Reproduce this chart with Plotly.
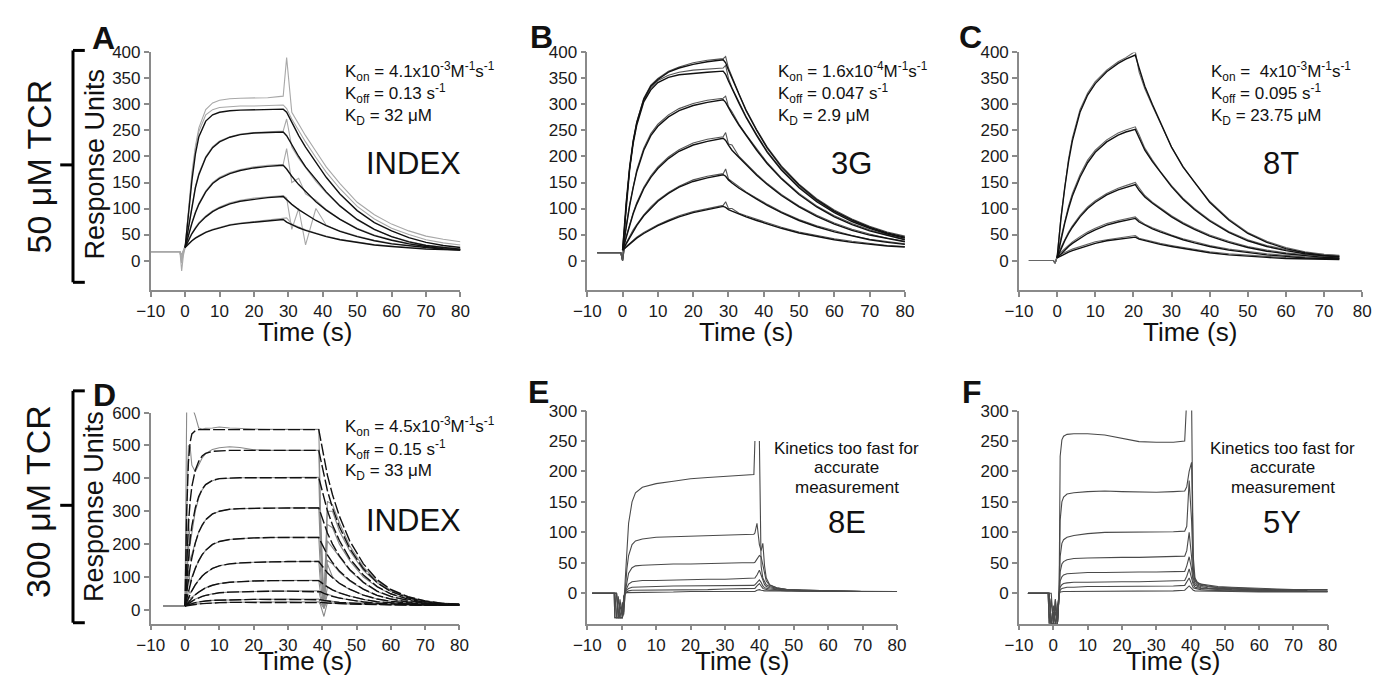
import plotly.graph_objects as go

W, H = 1382, 677
FONT = "Liberation Sans, Arial, sans-serif"

# ---------------- data ----------------
# Panel A: INDEX, 50 uM TCR
t_a = [-10, -1.5, -1, -0.5, 0, 1, 2, 3, 4, 6, 8, 10, 13, 16, 20, 24, 28.5,
       29.5, 31, 33, 35, 38, 41, 45, 50, 55, 60, 65, 70, 75, 80]
a_dat_1 = [17, 17, -20, 10, 25, 100, 170, 220, 255, 290, 303, 308, 311, 312, 312, 313, 316,
           390, 285, 262, 240, 210, 180, 148, 112, 88, 70, 57, 47, 41, 36]
a_dat_2 = [17, 17, -5, 15, 25, 95, 165, 215, 248, 280, 290, 294, 296, 297, 297, 298, 299,
           292, 272, 250, 228, 198, 170, 138, 104, 80, 62, 50, 40, 34, 30]
a_dat_3 = [17, 17, 5, 20, 28, 68, 108, 143, 168, 200, 219, 230, 238, 243, 246, 247, 249,
           272, 218, 196, 178, 152, 130, 104, 78, 59, 46, 37, 30, 26, 23]
a_dat_4 = [17, 17, 0, 18, 26, 52, 74, 94, 110, 134, 150, 160, 169, 175, 180, 183, 185,
           215, 150, 158, 128, 116, 98, 80, 62, 49, 40, 33, 28, 24, 22]
a_dat_5 = [17, 17, 10, 20, 26, 42, 54, 64, 73, 86, 96, 103, 111, 116, 120, 123, 125,
           120, 60, 100, 30, 100, 68, 57, 47, 39, 33, 29, 26, 23, 21]
a_dat_6 = [17, 17, 12, 20, 26, 33, 39, 44, 48, 55, 60, 64, 69, 72, 75, 78, 80,
           82, 70, 64, 59, 53, 47, 41, 36, 31, 28, 25, 23, 22, 21]
a_fit_1 = [None, None, None, None, 25, 90, 155, 205, 238, 268, 280, 285, 288, 289, 290, 290, 291,
           285, 265, 240, 218, 188, 160, 128, 96, 73, 57, 44, 35, 29, 25]
a_fit_2 = [None, None, None, None, 25, 65, 105, 140, 165, 198, 217, 228, 237, 242, 245, 246, 247,
           240, 222, 200, 180, 155, 132, 105, 79, 60, 46, 36, 29, 25, 22]
a_fit_3 = [None, None, None, None, 25, 50, 72, 92, 108, 132, 148, 158, 167, 173, 178, 181, 183,
           176, 162, 146, 132, 113, 97, 79, 61, 48, 39, 32, 27, 23, 21]
a_fit_4 = [None, None, None, None, 25, 40, 52, 62, 71, 84, 94, 101, 109, 114, 118, 121, 123,
           117, 108, 98, 89, 77, 67, 56, 46, 38, 32, 28, 25, 22, 20]
a_fit_5 = [None, None, None, None, 25, 32, 38, 43, 47, 54, 59, 63, 68, 71, 74, 77, 79,
           74, 69, 63, 58, 52, 46, 40, 35, 30, 27, 24, 22, 21, 20]

# Panel B: 3G
t_b = [-7.2, -0.5, 0, 0.5, 1, 2, 3, 4, 6, 8, 10, 13, 16, 20, 24, 28.5,
       29.2, 30, 31, 33, 35, 38, 41, 45, 50, 55, 60, 65, 70, 75, 80]
b_dat_1 = [15, 15, 2, 60, 108, 178, 230, 266, 312, 337, 350, 364, 372, 380, 385, 388,
           392, 370, 352, 320, 290, 252, 218, 182, 147, 119, 97, 80, 66, 55, 47]
b_dat_2 = [15, 15, 0, 58, 104, 176, 228, 263, 308, 332, 346, 356, 362, 366, 368, 370,
           375, 350, 332, 304, 277, 242, 210, 176, 142, 115, 94, 77, 63, 52, 44]
b_dat_3 = [15, 15, 0, 40, 66, 108, 144, 174, 216, 244, 262, 280, 292, 302, 308, 312,
           316, 296, 286, 262, 242, 214, 188, 159, 129, 105, 86, 71, 59, 49, 41]
b_dat_4 = [15, 15, 0, 30, 46, 70, 92, 111, 141, 163, 180, 199, 213, 226, 233, 238,
           246, 224, 222, 200, 186, 166, 148, 127, 105, 87, 72, 60, 51, 43, 37]
b_dat_5 = [15, 15, 0, 25, 34, 47, 59, 69, 88, 103, 116, 131, 143, 155, 162, 167,
           176, 157, 152, 141, 132, 120, 108, 94, 79, 67, 57, 48, 41, 36, 32]
b_dat_6 = [15, 15, 0, 22, 27, 33, 39, 45, 54, 62, 69, 78, 86, 94, 100, 106,
           113, 100, 100, 91, 86, 79, 72, 64, 55, 48, 42, 37, 33, 29, 27]
b_fit_1 = [None, None, 20, 65, 110, 180, 230, 265, 310, 335, 348, 362, 370, 377, 382, 386,
           380, 366, 350, 318, 288, 250, 216, 180, 145, 117, 95, 78, 64, 53, 45]
b_fit_2 = [None, None, 20, 62, 105, 175, 225, 260, 305, 328, 342, 352, 357, 360, 362, 364,
           358, 345, 330, 302, 275, 240, 208, 174, 140, 113, 92, 75, 62, 51, 43]
b_fit_3 = [None, None, 20, 42, 65, 105, 140, 170, 212, 240, 258, 276, 288, 298, 304, 309,
           304, 294, 282, 260, 240, 212, 186, 157, 127, 103, 84, 69, 57, 48, 40]
b_fit_4 = [None, None, 20, 32, 45, 68, 90, 108, 138, 160, 177, 196, 210, 222, 229, 235,
           231, 222, 212, 198, 184, 164, 146, 125, 103, 85, 70, 58, 49, 42, 36]
b_fit_5 = [None, None, 20, 26, 33, 45, 57, 67, 86, 101, 114, 129, 141, 152, 159, 165,
           162, 155, 149, 139, 130, 118, 106, 92, 77, 65, 55, 47, 40, 35, 31]
b_fit_6 = [None, None, 20, 23, 26, 32, 38, 43, 52, 60, 67, 76, 84, 92, 98, 104,
           102, 98, 95, 89, 84, 77, 70, 62, 53, 46, 40, 35, 31, 28, 26]

# Panel C: 8T
t_c = [-7.4, -1, -0.5, 0, 1, 2, 3, 4, 6, 8, 10, 13, 16, 18, 20.5,
       21.5, 23, 25, 27, 30, 33, 36, 40, 45, 50, 55, 60, 65, 70, 74]
c_dat_1 = [0, 0, -5, 8, 84, 146, 196, 236, 290, 322, 344, 366, 382, 390, 402,
           362, 330, 297, 266, 218, 181, 151, 114, 80, 54, 37, 25, 17, 12, 10]
c_dat_2 = [0, 0, -5, 8, 44, 77, 105, 129, 165, 193, 212, 232, 245, 251, 257,
           242, 216, 193, 172, 144, 120, 100, 78, 56, 40, 29, 21, 15, 11, 9]
c_dat_3 = [0, 0, -5, 8, 25, 41, 55, 67, 87, 103, 115, 129, 139, 144, 150,
           140, 125, 112, 101, 86, 73, 62, 49, 37, 27, 20, 15, 11, 8, 7]
c_dat_4 = [0, 0, -5, 8, 16, 23, 30, 36, 46, 55, 62, 71, 77, 80, 84,
           77, 70, 63, 57, 49, 42, 36, 29, 22, 17, 13, 10, 7, 6, 5]
c_dat_5 = [0, 0, -5, 8, 12, 16, 19, 22, 27, 32, 36, 40, 43, 45, 48,
           43, 40, 36, 33, 29, 25, 21, 17, 13, 10, 8, 6, 5, 4, 4]
c_fit_1 = [None, None, None, 5, 80, 140, 190, 230, 285, 318, 340, 363, 379, 387, 395,
           370, 335, 300, 268, 218, 180, 150, 112, 78, 52, 35, 23, 15, 10, 8]
c_fit_2 = [None, None, None, 5, 40, 72, 100, 124, 160, 188, 208, 228, 241, 247, 252,
           235, 212, 190, 170, 142, 118, 98, 76, 54, 38, 27, 19, 13, 9, 7]
c_fit_3 = [None, None, None, 5, 22, 38, 52, 64, 84, 100, 112, 126, 136, 141, 146,
           135, 122, 110, 99, 84, 71, 60, 47, 35, 25, 18, 13, 9, 6, 5]
c_fit_4 = [None, None, None, 5, 13, 20, 27, 33, 43, 52, 59, 68, 74, 77, 81,
           74, 68, 61, 55, 47, 40, 34, 27, 20, 15, 11, 8, 5, 4, 3]
c_fit_5 = [None, None, None, 5, 9, 13, 16, 19, 24, 29, 33, 38, 41, 43, 45,
           41, 38, 34, 31, 27, 23, 19, 15, 11, 8, 6, 4, 3, 2, 2]

# Panel D: INDEX, 300 uM TCR
t_d = [-6.3, 0, 0.5, 1, 1.5, 2, 3, 4, 5, 6, 8, 10, 13, 16, 20, 25, 30, 35, 39,
       39.5, 40.5, 41.5, 43, 45, 48, 52, 56, 60, 65, 70, 75, 80]
d_dat_1 = [12, 12, 620, 650, 640, 620, 590, 553, 550, 552, 553, 556, 553, 551, 550, 549, 549, 549, 549,
           300, 10, 330, 320, 265, 195, 130, 88, 60, 40, 28, 21, 18]
d_dat_2 = [12, 12, 300, 500, 495, 440, 420, 440, 462, 475, 488, 493, 496, 494, 487, 485, 485, 485, 485,
           260, 10, 300, 300, 240, 180, 120, 82, 56, 37, 26, 20, 17]
d_dat_3 = [12, 12, 100, 280, 200, 230, 300, 340, 365, 380, 393, 399, 401, 402, 402, 403, 403, 403, 403,
           220, 10, 260, 250, 200, 150, 100, 70, 48, 33, 23, 18, 16]
d_dat_4 = [12, 12, 60, 200, 150, 170, 205, 237, 258, 274, 291, 300, 306, 308, 309, 310, 311, 311, 311,
           180, 8, 210, 190, 160, 120, 82, 56, 40, 28, 21, 17, 16]
d_dat_5 = [12, 12, 40, 120, 80, 100, 128, 150, 167, 181, 198, 208, 214, 217, 219, 220, 221, 221, 221,
           120, 5, 150, 140, 115, 88, 62, 44, 33, 24, 19, 16, 15]
d_dat_6 = [12, 12, 25, 60, 50, 60, 77, 91, 103, 112, 126, 134, 140, 143, 145, 146, 147, 148, 148,
           80, 5, 140, 100, 80, 62, 45, 33, 26, 21, 17, 15, 15]
d_dat_7 = [12, 12, 20, 40, 35, 38, 46, 54, 61, 67, 75, 80, 84, 86, 88, 89, 89, 90, 90,
           50, 5, 70, 60, 52, 42, 32, 25, 21, 18, 16, 15, 14]
d_dat_8 = [12, 12, 16, 30, 25, 28, 33, 37, 41, 44, 49, 52, 54, 55, 56, 57, 57, 58, 58,
           35, 5, 48, 42, 36, 30, 24, 20, 18, 16, 15, 14, 14]
d_dat_9 = [12, 12, 14, 22, 20, 21, 23, 25, 26, 27, 29, 30, 31, 31, 32, 32, 33, 33, 33,
           20, 5, 28, 25, 23, 21, 18, 17, 16, 15, 14, 14, 14]
d_dat_10 = [12, 12, 13, 18, 16, 17, 18, 19, 20, 20, 21, 22, 23, 23, 24, 24, 25, 25, 25,
            15, -20, 22, 20, 19, 18, 17, 16, 15, 15, 14, 14, 14]
d_fit_1 = [None, 12, 300, 450, 510, 535, 545, 548, 548, 548, 548, 548, 548, 548, 548, 548, 548, 548, 548,
           520, 460, 410, 350, 285, 210, 140, 92, 62, 40, 27, 20, 17]
d_fit_2 = [None, 12, 150, 260, 330, 375, 425, 452, 468, 476, 482, 484, 485, 485, 485, 485, 485, 485, 485,
           460, 407, 363, 310, 253, 187, 125, 83, 56, 37, 25, 19, 17]
d_fit_3 = [None, 12, 90, 160, 215, 255, 310, 345, 367, 381, 394, 399, 401, 402, 402, 402, 402, 402, 402,
           382, 338, 302, 258, 211, 156, 106, 71, 49, 33, 23, 18, 16]
d_fit_4 = [None, 12, 55, 95, 130, 158, 203, 236, 258, 274, 292, 300, 306, 308, 309, 310, 310, 310, 310,
           295, 261, 234, 200, 164, 123, 84, 57, 41, 29, 21, 17, 16]
d_fit_5 = [None, 12, 35, 58, 78, 96, 126, 150, 168, 181, 199, 208, 214, 217, 219, 220, 220, 220, 220,
           209, 186, 167, 144, 118, 90, 63, 44, 33, 24, 19, 16, 15]
d_fit_6 = [None, 12, 24, 37, 48, 58, 76, 91, 103, 112, 126, 134, 140, 143, 145, 146, 147, 147, 147,
           140, 125, 113, 98, 81, 63, 45, 33, 26, 21, 17, 15, 15]
d_fit_7 = [None, 12, 18, 25, 31, 36, 46, 54, 61, 67, 75, 80, 84, 86, 88, 89, 89, 89, 89,
           85, 77, 70, 61, 52, 42, 32, 25, 21, 18, 16, 15, 14]
d_fit_8 = [None, 12, 16, 19, 23, 26, 32, 37, 41, 44, 49, 52, 54, 55, 56, 57, 57, 57, 57,
           55, 50, 46, 41, 36, 30, 24, 20, 18, 16, 15, 14, 14]
d_fit_9 = [None, 12, 14, 16, 18, 19, 22, 24, 26, 27, 29, 30, 31, 31, 32, 32, 32, 32, 32,
           31, 29, 27, 25, 23, 21, 18, 17, 16, 15, 14, 14, 14]
d_fit_10 = [None, 12, 13, 14, 15, 16, 17, 18, 19, 20, 21, 22, 23, 23, 24, 24, 24, 24, 24,
            23, 22, 21, 20, 19, 18, 17, 16, 15, 15, 14, 14, 14]

# Panel E: 8E
t_e = [-8.6, -2.2, -2.0, -1.5, -1.0, -0.5, 0.2, 0.6, 1, 1.5, 2, 3, 4, 6, 10, 15, 20, 25, 30, 35,
       38.4, 38.7, 39.3, 40.0, 40.5, 41.0, 41.5, 42, 43, 45, 48, 52, 60, 70, 80]
e_1 = [0, 0, -40, -40, -5, -40, -40, -20, 20, 70, 115, 150, 165, 174, 180, 184, 188, 190, 192, 193,
       195, 250, None, 250, 45, 25, 18, 14, 11, 8, 6, 5, 4, 3, 3]
e_2 = [0, 0, 0, -40, -40, -10, -40, -30, 10, 40, 62, 80, 86, 89, 92, 93, 94, 95, 96, 96,
       97, 99, 115, 80, 70, 82, 45, 25, 14, 9, 6, 5, 4, 3, 3]
e_3 = [0, 0, 0, 0, -40, -40, -15, -35, 2, 20, 33, 42, 45, 46, 47, 48, 48, 49, 49, 50,
       50, 51, 56, 62, 60, 45, 30, 20, 13, 9, 6, 5, 4, 3, 3]
e_4 = [0, 0, 0, 0, -30, -40, -40, -10, 2, 10, 15, 19, 20, 21, 21, 22, 22, 23, 23, 24,
       24, 25, 30, 38, 30, 20, 14, 11, 9, 7, 5, 4, 3, 3, 3]
e_5 = [0, 0, 0, -40, -40, -40, -40, -5, 1, 5, 8, 10, 10, 11, 11, 12, 12, 12, 13, 13,
       13, 14, 18, 22, 18, 12, 9, 8, 7, 6, 5, 4, 3, 3, 3]
e_6 = [0, 0, -40, -40, -40, -20, -40, -5, 0, 2, 4, 5, 5, 5, 6, 6, 6, 6, 7, 7,
       7, 8, 12, 16, 12, 8, 7, 6, 5, 5, 4, 4, 3, 3, 3]
e_7 = [0, 0, 0, 0, -40, -40, -40, -8, 0, 1, 1, 2, 2, 2, 2, 2, 3, 3, 3, 3,
       3, 3, 5, 6, 5, 4, 4, 4, 4, 3, 3, 3, 3, 3, 3]

# Panel F: 5Y
t_f = [-7.4, -1.5, -1.2, -0.6, 0, 0.6, 1.2, 1.7, 2.0, 2.5, 3, 4, 6, 10, 15, 20, 25, 30, 35,
       38.3, 38.9, 39.6, 40.3, 40.8, 41.3, 42, 43, 45, 48, 52, 60, 65, 70, 74, 80]
f_1 = [0, 0, -50, -10, -50, -20, -50, 0, 225, 252, 258, 261, 262, 262, 260, 254, 249, 248, 248,
       250, 320, None, 320, 40, 22, 17, 15, 13, 11, 10, 8, 7, 6, 6, 6]
f_2 = [0, 0, 0, -50, -50, -10, -50, 0, 120, 150, 158, 163, 165, 167, 168, 167, 166, 166, 167,
       168, 175, 200, 215, 60, 25, 18, 15, 12, 10, 9, 7, 6, 6, 5, 5]
f_3 = [0, 0, -50, -50, -20, -50, -50, 0, 60, 82, 88, 92, 95, 98, 100, 100, 100, 101, 101,
       102, 110, 185, 120, 35, 20, 15, 13, 11, 9, 8, 6, 6, 5, 5, None]
f_4 = [0, 0, 0, -50, -50, -30, -50, 0, 35, 48, 52, 55, 57, 58, 59, 59, 59, 60, 60,
       61, 70, 100, 60, 25, 16, 13, 11, 9, 8, 7, 5, 4, 4, 4, None]
f_5 = [0, 0, -40, -50, -50, -10, -50, 0, 20, 27, 30, 32, 33, 34, 34, 35, 35, 35, 35,
       36, 45, 60, 40, 18, 13, 11, 9, 8, 7, 6, 5, 4, 4, 4, None]
f_6 = [0, 0, 0, -50, -30, -50, -50, 0, 10, 14, 16, 17, 18, 18, 19, 19, 19, 20, 20,
       21, 28, 40, 25, 14, 10, 9, 8, 7, 6, 5, 4, 4, 3, 3, 3]
f_7 = [0, 0, 0, 0, -50, -50, -20, 0, 5, 8, 9, 10, 10, 11, 11, 11, 12, 12, 12,
       13, 18, 25, 15, 9, 8, 7, 6, 5, 5, 4, 3, 3, 3, 3, 3]
f_8 = [0, 0, 0, -50, -50, -50, -30, 0, 2, 3, 3, 3, 3, 4, 4, 4, 4, 4, 4,
       5, 8, 12, 8, 5, 4, 4, 4, 3, 3, 3, 2, 2, 2, 2, 2]

x_ticks = [-10, 0, 10, 20, 30, 40, 50, 60, 70, 80]
y_ticks_400 = [0, 50, 100, 150, 200, 250, 300, 350, 400]
y_ticks_600 = [0, 100, 200, 300, 400, 500, 600]
y_ticks_300 = [0, 50, 100, 150, 200, 250, 300]


# ---------------- layout helpers ----------------
def fx(p):
    return p / W


def fy(p):
    return 1 - p / H


# pixel boxes of each plot area (left, right, top, bottom)
panels = [
    dict(box=(139, 454, 44, 285), yr=(-57, 400), yt=y_ticks_400, t=t_a,
         gray=[a_dat_1, a_dat_2, a_dat_3, a_dat_4, a_dat_5, a_dat_6],
         black=[a_fit_1, a_fit_2, a_fit_3, a_fit_4, a_fit_5], gcol="#a8a8a8", dash="solid"),
    dict(box=(583, 906, 44, 285), yr=(-57, 400), yt=y_ticks_400, t=t_b,
         gray=[b_dat_1, b_dat_2, b_dat_3, b_dat_4, b_dat_5, b_dat_6],
         black=[b_fit_1, b_fit_2, b_fit_3, b_fit_4, b_fit_5, b_fit_6], gcol="#555555", dash="solid"),
    dict(box=(1022, 1371, 44, 285), yr=(-57, 400), yt=y_ticks_400, t=t_c,
         gray=[c_dat_1, c_dat_2, c_dat_3, c_dat_4, c_dat_5],
         black=[c_fit_1, c_fit_2, c_fit_3, c_fit_4, c_fit_5], gcol="#666666", dash="solid"),
    dict(box=(139, 453, 409, 623), yr=(-42, 600), yt=y_ticks_600, t=t_d,
         gray=[d_dat_1, d_dat_2, d_dat_3, d_dat_4, d_dat_5, d_dat_6, d_dat_7, d_dat_8, d_dat_9, d_dat_10],
         black=[d_fit_1, d_fit_2, d_fit_3, d_fit_4, d_fit_5, d_fit_6, d_fit_7, d_fit_8, d_fit_9, d_fit_10],
         gcol="#8a8a8a", dash="12px,3px"),
    dict(box=(583, 898, 407, 623), yr=(-50, 300), yt=y_ticks_300, t=t_e,
         gray=[e_1, e_2, e_3, e_4, e_5, e_6, e_7], black=[], gcol="#4a4a4a", dash="solid"),
    dict(box=(1022, 1336, 407, 623), yr=(-50, 300), yt=y_ticks_300, t=t_f,
         gray=[f_1, f_2, f_3, f_4, f_5, f_6, f_7, f_8], black=[], gcol="#4a4a4a", dash="solid"),
]

fig = go.Figure()
axis_style = dict(showline=True, linecolor="#8a8a8a", linewidth=1.5, ticks="outside",
                  ticklen=5, tickwidth=1.5, tickcolor="#8a8a8a", showgrid=False,
                  zeroline=False, tickfont=dict(family=FONT, size=17, color="#1a1a1a"))

for i, p in enumerate(panels):
    sfx = "" if i == 0 else str(i + 1)
    xa, ya = "x" + sfx, "y" + sfx
    for ys in p["gray"]:
        fig.add_trace(go.Scatter(x=p["t"], y=ys, mode="lines", xaxis=xa, yaxis=ya,
                                 line=dict(color=p["gcol"], width=1.1), showlegend=False,
                                 hoverinfo="skip"))
    for ys in p["black"]:
        fig.add_trace(go.Scatter(x=p["t"], y=ys, mode="lines", xaxis=xa, yaxis=ya,
                                 line=dict(color="#111111", width=1.4, dash=p["dash"]),
                                 showlegend=False, hoverinfo="skip"))
    l, r, t, b = p["box"]
    fig.update_layout(**{
        "xaxis" + sfx: dict(axis_style, domain=[fx(l), fx(r)], range=[-10, 80],
                            tickvals=x_ticks, anchor=ya),
        "yaxis" + sfx: dict(axis_style, domain=[fy(b), fy(t)], range=list(p["yr"]),
                            tickvals=p["yt"], anchor=xa),
    })

annotations = []


def txt(x, y, s, size, anchor="left", bold=False, angle=0):
    if bold:
        s = "<b>" + s + "</b>"
    annotations.append(dict(x=fx(x), y=fy(y), xref="paper", yref="paper", text=s,
                            showarrow=False, xanchor=anchor, yanchor="middle",
                            textangle=angle,
                            font=dict(family=FONT, size=size, color="#111111")))


# panel letters
for letter, (x, y) in zip("ABCDEF", [(91, 29), (536, 28), (973, 28), (92, 391), (533, 388), (974, 388)]):
    txt(x, y, letter, 32, anchor="center", bold=True)

# kinetic constants
kin = [
    (335, 63, ["K<sub>on</sub> = 4.1x10<sup>-3</sup>M<sup>-1</sup>s<sup>-1</sup>",
               "K<sub>off</sub> = 0.13 s<sup>-1</sup>", "K<sub>D</sub> = 32 \u03bcM"]),
    (775, 63, ["K<sub>on</sub> = 1.6x10<sup>-4</sup>M<sup>-1</sup>s<sup>-1</sup>",
               "K<sub>off</sub> = 0.047 s<sup>-1</sup>", "K<sub>D</sub> = 2.9 \u03bcM"]),
    (1215, 63, ["K<sub>on</sub> =  4x10<sup>-3</sup>M<sup>-1</sup>s<sup>-1</sup>",
                "K<sub>off</sub> = 0.095 s<sup>-1</sup>", "K<sub>D</sub> = 23.75 \u03bcM"]),
    (335, 423, ["K<sub>on</sub> = 4.5x10<sup>-3</sup>M<sup>-1</sup>s<sup>-1</sup>",
                "K<sub>off</sub> = 0.15 s<sup>-1</sup>", "K<sub>D</sub> = 33 \u03bcM"]),
]
for x, y, lines in kin:
    for j, s in enumerate(lines):
        txt(x, y + j * 23, s, 17)

# peptide names
for x, y, s in [(406, 157, "INDEX"), (852, 157, "3G"), (1288, 157, "8T"),
                (406, 518, "INDEX"), (847, 520, "8E"), (1289, 520, "5Y")]:
    txt(x, y, s, 31, anchor="center")

for x in (847, 1290):
    for j, s in enumerate(["Kinetics too fast for", "accurate", "measurement"]):
        txt(x, 445 + j * 20, s, 17, anchor="center")

# axis titles
for x in (296, 744, 1196):
    txt(x, 327, "Time (s)", 26, anchor="center")
for x in (296, 740, 1179):
    txt(x, 661, "Time (s)", 26, anchor="center")
txt(82, 157, "Response Units", 27, anchor="center", angle=-90)
txt(82, 504, "Response Units", 27, anchor="center", angle=-90)
txt(25, 160, "50 \u03bcM TCR", 34, anchor="center", angle=-90)
txt(25, 499, "300 \u03bcM TCR", 34, anchor="center", angle=-90)

# concentration brackets
shapes = []
for top, mid, bot in [(42, 158, 277), (387, 503, 622)]:
    for x0, y0, x1, y1 in [(60, top, 60, bot), (60, top, 72, top), (60, bot, 72, bot), (47, mid, 60, mid)]:
        shapes.append(dict(type="line", xref="paper", yref="paper",
                           x0=fx(x0), y0=fy(y0), x1=fx(x1), y1=fy(y1),
                           line=dict(color="black", width=3)))

fig.update_layout(width=W, height=H, margin=dict(l=0, r=0, t=0, b=0),
                  paper_bgcolor="white", plot_bgcolor="white",
                  annotations=annotations, shapes=shapes)

# drop the default page margin so the figure sits at the window's top-left corner
fig.write_html("out.html", config={"displayModeBar": False},
               post_script="document.body.style.margin='0';"
                           "document.documentElement.style.overflow='hidden';")
